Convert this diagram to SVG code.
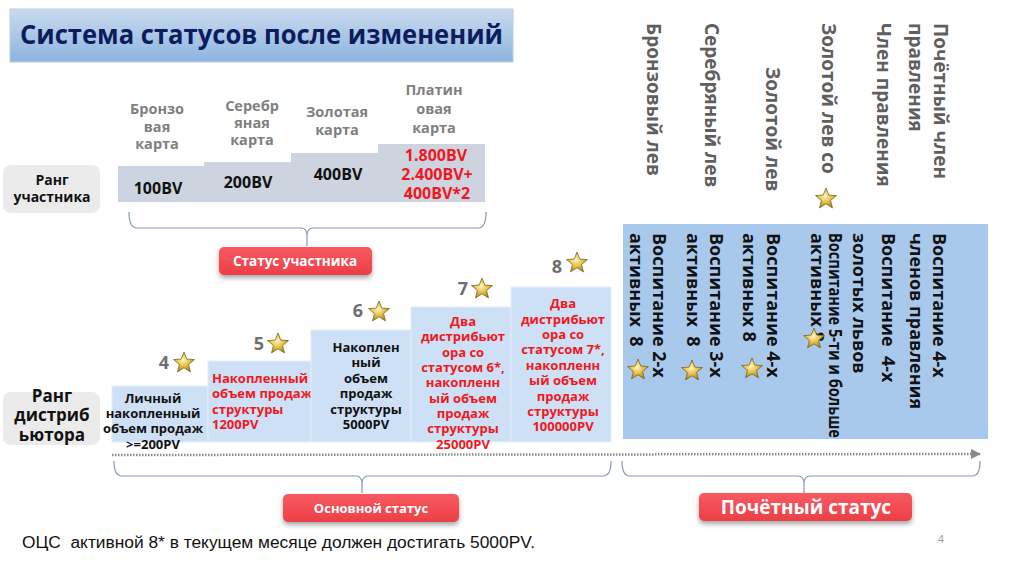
<svg xmlns="http://www.w3.org/2000/svg" width="1024" height="574" viewBox="0 0 1024 574">
<defs>
  <linearGradient id="titleGrad" x1="0" y1="0" x2="0" y2="1">
    <stop offset="0" stop-color="#c9dbef"/>
    <stop offset="1" stop-color="#8db3df"/>
  </linearGradient>
  <linearGradient id="btnGrad" x1="0" y1="0" x2="0" y2="1">
    <stop offset="0" stop-color="#f85a61"/>
    <stop offset="1" stop-color="#ec3f47"/>
  </linearGradient>
  <radialGradient id="starGrad" cx="0.45" cy="0.4" r="0.6">
    <stop offset="0" stop-color="#fff6bf"/>
    <stop offset="0.55" stop-color="#e3bf45"/>
    <stop offset="1" stop-color="#a8821d"/>
  </radialGradient>
  <filter id="shadow" x="-10%" y="-20%" width="120%" height="160%">
    <feDropShadow dx="0" dy="3" stdDeviation="2.5" flood-color="#000" flood-opacity="0.35"/>
  </filter>
  <path id="star" d="M0,-11 L2.82,-3.88 L10.46,-3.4 L4.57,1.48 L6.47,8.9 L0,4.8 L-6.47,8.9 L-4.57,1.48 L-10.46,-3.4 L-2.82,-3.88 Z" fill="url(#starGrad)" stroke="#7d6521" stroke-width="0.8"/>
  <marker id="arrow" viewBox="0 0 10 10" refX="9" refY="5" markerWidth="4" markerHeight="4" orient="auto" markerUnits="strokeWidth">
    <path d="M0,0 L10,5 L0,10 Z" fill="#8a8a8a"/>
  </marker>
  <style>
    text { font-family: "Open Sans", "Liberation Sans", sans-serif; font-weight: bold; }
    .lbl { fill: #7f7f7f; font-size: 14.5px; text-anchor: middle; }
    .bv { fill: #111; font-size: 16px; text-anchor: middle; }
    .bv.red { fill: #f01820; }
    .rankbox { fill: #ebebeb; }
    .rank { fill: #111; text-anchor: middle; }
    .card { fill: #cdd4e0; }
    .step { fill: #cde0f5; stroke: #e4eefa; stroke-width: 1; }
    .st { font-size: 13px; fill: #111; }
    .st.red { fill: #f01820; }
    .mid { text-anchor: middle; }
    .num { fill: #6f6f6f; font-size: 18px; text-anchor: middle; }
    .btn { fill: url(#btnGrad); filter: url(#shadow); }
    .btntxt { fill: #fff; text-anchor: middle; }
    .head { fill: #5f5f5f; font-size: 19px; }
    .pan { fill: #111; font-size: 18px; }
    .brace { fill: none; stroke: #8796c2; stroke-width: 1.2; }
  </style>
</defs>

<rect width="1024" height="574" fill="#ffffff"/>

<g id="title">
  <rect x="10" y="9" width="503" height="53" fill="url(#titleGrad)" stroke="#b9cde6" stroke-width="1"/>
  <text x="20" y="44" font-size="27" fill="#0c1d5e" textLength="483" lengthAdjust="spacingAndGlyphs">Система статусов после изменений</text>
</g>

<g id="rank-member">
  <rect class="rankbox" x="3" y="165" width="97" height="48" rx="8"/>
  <text class="rank" x="52" y="185" font-size="14">Ранг</text>
  <text class="rank" x="52" y="202" font-size="14">участника</text>
</g>

<g id="card-bronze">
  <text class="lbl" x="157" y="114">Бронзо</text>
  <text class="lbl" x="157" y="132">вая</text>
  <text class="lbl" x="157" y="149">карта</text>
  <rect class="card" x="118" y="166" width="87" height="36"/>
  <text class="bv" x="158" y="194">100BV</text>
</g>
<g id="card-silver">
  <text class="lbl" x="252" y="111">Серебр</text>
  <text class="lbl" x="252" y="128">яная</text>
  <text class="lbl" x="252" y="145">карта</text>
  <rect class="card" x="204" y="162" width="88" height="40"/>
  <text class="bv" x="248" y="188">200BV</text>
</g>
<g id="card-gold">
  <text class="lbl" x="337" y="117">Золотая</text>
  <text class="lbl" x="337" y="135">карта</text>
  <rect class="card" x="291" y="153" width="88" height="49"/>
  <text class="bv" x="338" y="180">400BV</text>
</g>
<g id="card-platinum">
  <text class="lbl" x="434" y="95">Платин</text>
  <text class="lbl" x="434" y="114">овая</text>
  <text class="lbl" x="434" y="133">карта</text>
  <rect class="card" x="378" y="144" width="107" height="58"/>
  <text class="bv red" x="436" y="161">1.800BV</text>
  <text class="bv red" x="437" y="180">2.400BV+</text>
  <text class="bv red" x="437" y="199">400BV*2</text>
</g>

<g id="btn-member-status">
  <rect class="btn" x="219" y="247" width="153" height="28" rx="5"/>
  <text class="btntxt" x="295" y="266" font-size="13.5">Статус участника</text>
</g>

<g id="rank-distributor">
  <rect class="rankbox" x="3" y="392" width="97" height="53" rx="8"/>
  <text class="rank" x="52" y="402" font-size="17">Ранг</text>
  <text class="rank" x="52" y="421" font-size="17">дистриб</text>
  <text class="rank" x="52" y="441" font-size="17">ьютора</text>
</g>

<g id="step-4">
  <rect class="step" x="112" y="386" width="96" height="56"/>
  <text class="num" x="164" y="369">4</text>
  <use href="#star" x="184" y="363"/>
  <text class="st mid" x="153" y="403">Личный</text>
  <text class="st mid" x="153" y="418">накопленный</text>
  <text class="st mid" x="153" y="433">объем продаж</text>
  <text class="st mid" x="153" y="449">&gt;=200PV</text>
</g>
<g id="step-5">
  <rect class="step" x="208" y="361" width="103" height="81"/>
  <text class="num" x="259" y="350">5</text>
  <use href="#star" x="278" y="344"/>
  <text class="st red" x="212" y="383">Накопленный</text>
  <text class="st red" x="212" y="398">объем продаж</text>
  <text class="st red" x="212" y="414">структуры</text>
  <text class="st red" x="212" y="429">1200PV</text>
</g>
<g id="step-6">
  <rect class="step" x="311" y="330" width="100" height="112"/>
  <text class="num" x="358" y="317">6</text>
  <use href="#star" x="379" y="312"/>
  <text class="st mid" x="366" y="352">Накоплен</text>
  <text class="st mid" x="366" y="367">ный</text>
  <text class="st mid" x="366" y="383">объем</text>
  <text class="st mid" x="366" y="398">продаж</text>
  <text class="st mid" x="366" y="414">структуры</text>
  <text class="st mid" x="366" y="429">5000PV</text>
</g>
<g id="step-7">
  <rect class="step" x="411" y="307" width="100" height="135"/>
  <text class="num" x="463" y="295">7</text>
  <use href="#star" x="482" y="289"/>
  <text class="st red mid" x="463" y="326">Два</text>
  <text class="st red mid" x="463" y="341">дистрибьют</text>
  <text class="st red mid" x="463" y="357">ора со</text>
  <text class="st red mid" x="463" y="372">статусом 6*,</text>
  <text class="st red mid" x="463" y="387">накопленн</text>
  <text class="st red mid" x="463" y="403">ый объем</text>
  <text class="st red mid" x="463" y="418">продаж</text>
  <text class="st red mid" x="463" y="433">структуры</text>
  <text class="st red mid" x="463" y="449">25000PV</text>
</g>
<g id="step-8">
  <rect class="step" x="511" y="287" width="100" height="155"/>
  <text class="num" x="557" y="273">8</text>
  <use href="#star" x="577" y="263"/>
  <text class="st red mid" x="563" y="308">Два</text>
  <text class="st red mid" x="563" y="324">дистрибьют</text>
  <text class="st red mid" x="563" y="339">ора со</text>
  <text class="st red mid" x="563" y="354">статусом 7*,</text>
  <text class="st red mid" x="563" y="370">накопленн</text>
  <text class="st red mid" x="563" y="385">ый объем</text>
  <text class="st red mid" x="563" y="401">продаж</text>
  <text class="st red mid" x="563" y="416">структуры</text>
  <text class="st red mid" x="563" y="431">100000PV</text>
</g>

<g id="honor-headings">
  <text class="head" transform="translate(647,23) rotate(90)">Бронзовый лев</text>
  <text class="head" transform="translate(705,23) rotate(90)">Серебряный лев</text>
  <text class="head" transform="translate(766,67) rotate(90)">Золотой лев</text>
  <text class="head" transform="translate(822,23) rotate(90)">Золотой лев со</text>
  <use href="#star" x="826" y="199"/>
  <text class="head" transform="translate(877,23) rotate(90)">Член правления</text>
  <text class="head" transform="translate(934,23) rotate(90)">Почётный член</text>
  <text class="head" transform="translate(909,23) rotate(90)">правления</text>
</g>

<g id="honor-panel">
  <rect x="623" y="224" width="365" height="215" fill="#a9c9ec"/>
  <text class="pan" transform="translate(653,233) rotate(90)">Воспитание 2-х</text>
  <text class="pan" transform="translate(630,233) rotate(90)" xml:space="preserve">активных  8</text>
  <use href="#star" x="638" y="370"/>
  <text class="pan" transform="translate(710,233) rotate(90)">Воспитание 3-х</text>
  <text class="pan" transform="translate(687,233) rotate(90)" xml:space="preserve">активных  8</text>
  <use href="#star" x="692" y="371"/>
  <text class="pan" transform="translate(767,233) rotate(90)">Воспитание 4-х</text>
  <text class="pan" transform="translate(743,233) rotate(90)">активных 8</text>
  <use href="#star" x="752" y="369"/>
  <text class="pan" font-size="13.5" transform="translate(829,233) rotate(90)" textLength="205" lengthAdjust="spacingAndGlyphs">Воспитание 5-ти и больше</text>
  <text class="pan" font-size="13.5" transform="translate(811,233) rotate(90)">активных 8</text>
  <use href="#star" x="814" y="339"/>
  <text class="pan" transform="translate(882,233) rotate(90)" xml:space="preserve">Воспитание  4-х</text>
  <text class="pan" transform="translate(853,233) rotate(90)">золотых львов</text>
  <text class="pan" transform="translate(933,233) rotate(90)">Воспитание 4-х</text>
  <text class="pan" transform="translate(910,233) rotate(90)">членов правления</text>
</g>

<g id="connectors">
  <path class="brace" d="M129,212 Q129,228 137,228 L301,228 Q307,228 307,236 L307,246 M486,212 Q486,228 478,228 L313,228 Q307,228 307,236"/>
  <line x1="112" y1="455" x2="980" y2="454" stroke="#8a8a8a" stroke-width="2.5" stroke-dasharray="1.5 1.5" marker-end="url(#arrow)"/>
  <path class="brace" d="M114,461 Q114,476 122,476 L356,476 Q362,476 362,484 L362,493 M611,461 Q611,476 603,476 L368,476 Q362,476 362,484"/>
  <path class="brace" d="M622,461 Q622,476 630,476 L798,476 Q804,476 804,484 L804,493 M980,461 Q980,476 972,476 L810,476 Q804,476 804,484"/>
</g>

<g id="btn-basic-status">
  <rect class="btn" x="283" y="494" width="176" height="28" rx="5"/>
  <text class="btntxt" x="371" y="513" font-size="13">Основной статус</text>
</g>
<g id="btn-honor-status">
  <rect class="btn" x="699" y="493" width="213" height="28" rx="5"/>
  <text class="btntxt" x="806" y="514" font-size="19">Почётный статус</text>
</g>

<g id="footnote">
  <text x="22" y="548" font-size="16" style="font-family:'Liberation Sans',sans-serif;font-weight:normal" fill="#111" textLength="513" lengthAdjust="spacingAndGlyphs" xml:space="preserve">ОЦС  активной 8* в текущем месяце должен достигать 5000PV.</text>
  <text x="941" y="543" font-size="11" style="font-weight:normal" fill="#9a9a9a" text-anchor="middle">4</text>
</g>
</svg>
